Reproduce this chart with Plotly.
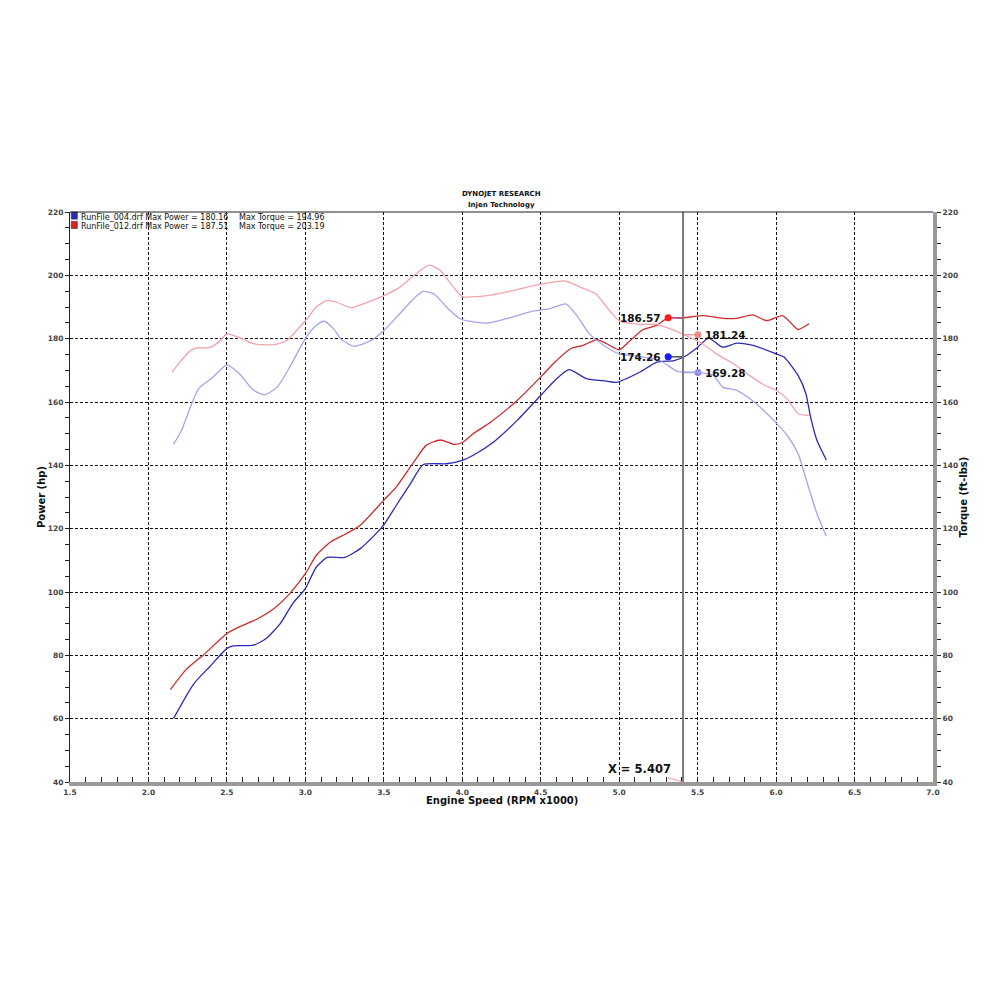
import plotly.graph_objects as go

# engine speed (RPM x1000) and readings
rpm_004_hp = [2.16, 2.29, 2.39, 2.50, 2.54, 2.67, 2.75, 2.84, 2.92, 3.00, 3.07, 3.14, 3.25, 3.35, 3.43,
              3.50, 3.58, 3.67, 3.75, 3.90, 4.00, 4.07, 4.20, 4.35, 4.51, 4.59, 4.68, 4.79, 4.92, 4.98,
              5.13, 5.24, 5.35, 5.43, 5.50, 5.57, 5.66, 5.75, 5.86, 6.00, 6.05, 6.14, 6.19, 6.22, 6.26, 6.32]
power_004 = [60.1, 71.1, 76.4, 82.2, 83.0, 83.2, 85.3, 90.0, 96.4, 101.1, 107.9, 110.9, 110.9, 113.7, 117.4,
             121.2, 127.4, 134.2, 140.2, 140.5, 141.6, 143.2, 147.4, 154.2, 162.6, 166.8, 170.2, 167.4, 166.6, 166.2,
             169.4, 172.6, 173.1, 174.7, 177.3, 180.2, 177.3, 178.6, 177.8, 175.2, 174.2, 168.4, 162.6, 155.2, 147.9, 141.7]

rpm_012_hp = [2.14, 2.24, 2.35, 2.50, 2.58, 2.69, 2.80, 2.90, 3.00, 3.07, 3.16, 3.26, 3.35, 3.50, 3.58,
              3.69, 3.77, 3.86, 3.95, 4.00, 4.07, 4.18, 4.35, 4.51, 4.58, 4.69, 4.77, 4.86, 4.92, 5.00,
              5.07, 5.15, 5.24, 5.31, 5.39, 5.54, 5.66, 5.75, 5.85, 5.94, 6.04, 6.09, 6.14, 6.21]
power_012 = [69.2, 75.5, 80.1, 86.9, 89.0, 91.4, 94.8, 99.5, 105.8, 111.6, 115.8, 118.4, 121.1, 129.0, 133.2,
             141.0, 146.3, 148.0, 146.6, 147.2, 150.0, 153.6, 160.5, 168.4, 172.1, 176.8, 177.9, 179.7, 178.4, 176.5,
             179.4, 182.8, 184.2, 186.6, 186.5, 187.3, 186.4, 186.4, 187.5, 185.7, 187.3, 185.2, 182.9, 184.7]

rpm_004_tq = [2.16, 2.21, 2.28, 2.32, 2.41, 2.50, 2.58, 2.67, 2.74, 2.82, 2.90, 3.00, 3.07, 3.12, 3.18, 3.23,
              3.31, 3.41, 3.50, 3.60, 3.69, 3.75, 3.82, 3.90, 3.99, 4.16, 4.28, 4.45, 4.56, 4.66, 4.73, 4.81,
              4.92, 5.00, 5.13, 5.26, 5.37, 5.49, 5.60, 5.66, 5.75, 5.86, 6.00, 6.07, 6.14, 6.20, 6.26, 6.32]
torque_004 = [146.6, 151.0, 160.0, 164.2, 167.8, 171.7, 168.9, 163.7, 162.3, 164.7, 171.0, 180.0, 184.2, 185.5, 183.1, 179.7,
              177.6, 179.2, 182.6, 187.8, 192.6, 194.9, 194.1, 190.0, 186.2, 184.9, 186.3, 188.7, 189.5, 191.0, 187.3, 181.5,
              177.3, 175.2, 174.4, 173.1, 169.7, 169.4, 168.4, 164.7, 163.7, 160.0, 153.4, 149.5, 143.7, 134.2, 124.8, 117.6]

rpm_012_tq = [2.15, 2.20, 2.27, 2.31, 2.38, 2.44, 2.50, 2.58, 2.67, 2.80, 2.88, 3.00, 3.07, 3.14, 3.20, 3.29,
              3.37, 3.50, 3.60, 3.69, 3.79, 3.86, 3.94, 4.00, 4.16, 4.28, 4.51, 4.66, 4.75, 4.85, 4.92, 5.00,
              5.13, 5.24, 5.35, 5.41, 5.52, 5.62, 5.73, 5.83, 5.93, 6.00, 6.07, 6.14, 6.21]
torque_012 = [169.4, 172.6, 176.3, 177.1, 177.1, 178.6, 181.5, 180.3, 178.4, 178.1, 179.4, 185.7, 190.0, 192.1, 191.5, 189.8,
              191.0, 193.6, 196.2, 199.9, 203.2, 201.5, 196.5, 193.3, 193.6, 194.7, 197.3, 198.2, 196.3, 194.2, 190.0, 185.7,
              184.5, 184.5, 182.6, 181.3, 178.8, 175.2, 172.0, 168.4, 165.2, 163.7, 161.0, 156.3, 155.8]

# cursor readout
cursor_x = 5.407
cursor_power_012 = 186.57
cursor_power_004 = 174.26
cursor_torque_012 = 181.24
cursor_torque_004 = 169.28

run_labels = ["RunFile_004.drf Max Power = 180.16", "RunFile_012.drf Max Power = 187.51"]
torque_labels = ["Max Torque = 194.96", "Max Torque = 203.19"]

FONT = "DejaVu Sans"
RED, BLUE = "#d02a2a", "#2a2ab4"
PINK, LAVENDER = "#f2a4ac", "#a4a4ee"

fig = go.Figure()

# torque curves (right axis) first so power sits on top
fig.add_trace(go.Scatter(x=rpm_012_tq, y=torque_012, yaxis="y2", mode="lines",
                         line=dict(color=PINK, width=1.3, shape="spline", smoothing=0.6)))
fig.add_trace(go.Scatter(x=rpm_004_tq, y=torque_004, yaxis="y2", mode="lines",
                         line=dict(color=LAVENDER, width=1.3, shape="spline", smoothing=0.6)))
fig.add_trace(go.Scatter(x=rpm_012_hp, y=power_012, mode="lines",
                         line=dict(color=RED, width=1.3, shape="spline", smoothing=0.6)))
fig.add_trace(go.Scatter(x=rpm_004_hp, y=power_004, mode="lines",
                         line=dict(color=BLUE, width=1.3, shape="spline", smoothing=0.6)))

# cursor line
fig.add_shape(type="line", x0=cursor_x, x1=cursor_x, y0=0, y1=1, xref="x", yref="y domain",
              line=dict(color="#7a7a7a", width=2))

# readout dots: power to the left of the cursor, torque to the right
off = 0.095
readouts = [
    (cursor_power_012, -off, "#ff1a1a", "#c040a0", "left"),
    (cursor_power_004, -off, "#1a1aff", "#202020", "left"),
    (cursor_torque_012, off, "#f08888", "#f08888", "right"),
    (cursor_torque_004, off, "#8c8cf0", "#8c8cf0", "right"),
]
for val, dx, dot, lead, side in readouts:
    fig.add_trace(go.Scatter(x=[cursor_x, cursor_x + dx], y=[val, val], mode="lines",
                             line=dict(color=lead, width=1.2)))
    fig.add_trace(go.Scatter(x=[cursor_x + dx], y=[val], mode="markers",
                             marker=dict(color=dot, size=7)))
    fig.add_annotation(x=cursor_x + dx, y=val, text=f"<b>{val:.2f}</b>", showarrow=False,
                       xanchor="right" if side == "left" else "left",
                       xshift=-5 if side == "left" else 5,
                       font=dict(family=FONT, size=10.5, color="#111"))

fig.add_annotation(x=cursor_x, y=40, text="<b>X = 5.407</b>", showarrow=True, arrowhead=0,
                   arrowwidth=0.8, arrowcolor="#e08090", ax=-44, ay=-13,
                   font=dict(family=FONT, size=11.5, color="#111"))

# legend block
for i, (lab, tq, col) in enumerate(zip(run_labels, torque_labels, [BLUE, "#e02020"])):
    ytop = 1.0 - i * 0.0165
    fig.add_shape(type="rect", xref="paper", yref="paper", x0=0.0015, x1=0.0085,
                  y0=ytop - 0.0125, y1=ytop, fillcolor=col, line=dict(color="#333", width=0.6))
    fig.add_annotation(xref="paper", yref="paper", x=0.0105, y=ytop + 0.002, text=lab,
                       showarrow=False, xanchor="left", yanchor="top",
                       font=dict(family=FONT, size=8, color="#111"))
    fig.add_annotation(xref="paper", yref="paper", x=0.1935, y=ytop + 0.002, text=tq,
                       showarrow=False, xanchor="left", yanchor="top",
                       font=dict(family=FONT, size=8, color="#111"))

# titles
fig.add_annotation(xref="paper", yref="paper", x=0.5, y=1.042, text="<b>DYNOJET RESEARCH</b>",
                   showarrow=False, font=dict(family=FONT, size=7, color="#111"))
fig.add_annotation(xref="paper", yref="paper", x=0.5, y=1.022, text="<b>Injen Technology</b>",
                   showarrow=False, font=dict(family=FONT, size=7, color="#111"))
fig.add_annotation(xref="paper", yref="paper", x=0.5, y=-0.033, yanchor="middle",
                   text="<b>Engine Speed (RPM x1000)</b>",
                   showarrow=False, font=dict(family=FONT, size=10, color="#111"))

# top frame line
fig.add_shape(type="line", xref="paper", yref="paper", x0=0, x1=1, y0=1, y1=1,
              line=dict(color="#222", width=1.2))

grid = dict(showgrid=True, gridcolor="#111", gridwidth=1, griddash="3px,2px")
tickfont = dict(family=FONT, size=7.5, color="#444", weight=600)

fig.update_layout(
    width=1000, height=1000,
    paper_bgcolor="white", plot_bgcolor="white",
    # the page body adds 8px on the left and top
    margin=dict(l=62, r=75, t=204, b=226),
    showlegend=False,
    font=dict(family=FONT),
    xaxis=dict(range=[1.5, 7.0], dtick=0.5, tick0=1.5, tickformat=".1f", **grid,
               showline=True, linecolor="#9a9a9a", linewidth=4, zeroline=False,
               ticks="inside", ticklen=5, tickcolor="#222", tickfont=tickfont,
               minor=dict(dtick=0.1, ticks="inside", ticklen=5, tickcolor="#222", showgrid=False)),
    yaxis=dict(range=[40, 220], dtick=20, **grid,
               showline=True, linecolor="#222", linewidth=1.2, zeroline=False,
               ticks="outside", ticklen=4, tickcolor="#222", tickfont=tickfont,
               minor=dict(dtick=5, ticks="outside", ticklen=4, tickcolor="#222", showgrid=False),
               title=dict(text="<b>Power (hp)</b>", standoff=0,
                          font=dict(family=FONT, size=10, color="#111"))),
    yaxis2=dict(range=[40, 220], dtick=20, overlaying="y", side="right", showgrid=False,
                showline=True, linecolor="#9a9a9a", linewidth=4, zeroline=False,
                ticks="outside", ticklen=4, tickcolor="#222", tickfont=tickfont,
                minor=dict(dtick=5, ticks="outside", ticklen=4, tickcolor="#222"),
                title=dict(text="<b>Torque (ft-lbs)</b>", standoff=0,
                           font=dict(family=FONT, size=10, color="#111"))),
)

fig.write_html("out.html")
